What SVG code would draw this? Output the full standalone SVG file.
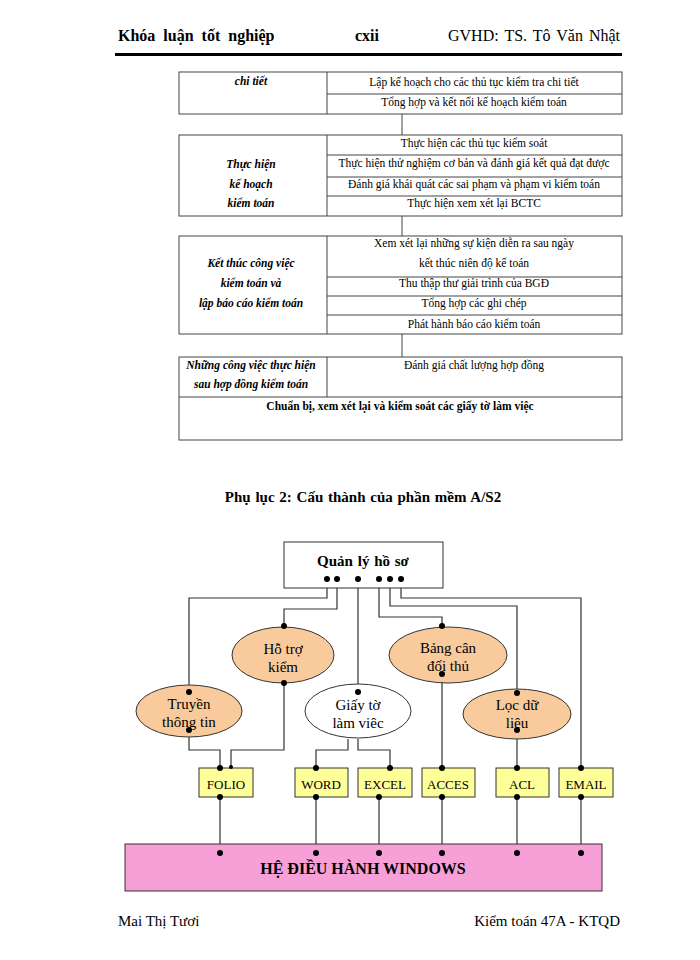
<svg xmlns="http://www.w3.org/2000/svg" width="700" height="960" viewBox="0 0 700 960">
<style>
.t{font-family:"Liberation Serif","Times New Roman",serif;fill:#000}
.hd{font-size:16px}
.tb{font-size:11.5px;text-anchor:middle}
.tl{font-size:11.5px;text-anchor:middle;font-weight:bold;font-style:italic}
.grid{fill:none;stroke:#444;stroke-width:1}
.ln{fill:none;stroke:#333;stroke-width:1.2}
.ell{fill:#F9CA9C;stroke:#333;stroke-width:1}
.box{fill:#FFFF99;stroke:#333;stroke-width:1}
.nt{font-size:15px;text-anchor:middle}
.bt{font-size:13px;text-anchor:middle}
.dot{fill:#000}
</style>
<rect width="700" height="960" fill="#fff"/>
<!-- header -->
<text class="t hd" x="118" y="41" font-weight="bold" word-spacing="4">Khóa luận tốt nghiệp</text>
<text class="t hd" x="355" y="41" font-weight="bold">cxii</text>
<text class="t hd" x="620" y="41" text-anchor="end" word-spacing="2">GVHD: TS. Tô Văn Nhật</text>
<rect x="115" y="53" width="507" height="3" fill="#000"/>

<!-- table part -->
<g id="table1">
<rect class="grid" x="179" y="72" width="443" height="42"/>
<line class="grid" x1="327" y1="72" x2="327" y2="114"/>
<line class="grid" x1="327" y1="94" x2="622" y2="94"/>
<text class="t tl" x="251" y="85">chi tiết</text>
<text class="t tb" x="474" y="86">Lập kế hoạch cho các thủ tục kiểm  tra chi tiết</text>
<text class="t tb" x="474" y="106">Tổng hợp và kết nối kế hoạch kiểm  toán</text>
</g>
<g id="table2">
<rect class="grid" x="179" y="135" width="443" height="81"/>
<line class="grid" x1="327" y1="135" x2="327" y2="216"/>
<line class="grid" x1="327" y1="155" x2="622" y2="155"/>
<line class="grid" x1="327" y1="177" x2="622" y2="177"/>
<line class="grid" x1="327" y1="196" x2="622" y2="196"/>
<text class="t tl" x="251" y="168">Thực hiện</text>
<text class="t tl" x="251" y="188">kế hoạch</text>
<text class="t tl" x="251" y="207">kiểm toán</text>
<text class="t tb" x="474" y="147">Thực hiện các thủ tục kiểm  soát</text>
<text class="t tb" x="474" y="167">Thực hiện thử nghiệm cơ bản và đánh giá kết quả đạt được</text>
<text class="t tb" x="474" y="188">Đánh giá khái quát các sai phạm và phạm vi kiểm  toán</text>
<text class="t tb" x="474" y="207">Thực hiện xem  xét lại BCTC</text>
</g>
<g id="table3">
<rect class="grid" x="179" y="236" width="443" height="98"/>
<line class="grid" x1="327" y1="236" x2="327" y2="334"/>
<line class="grid" x1="327" y1="277" x2="622" y2="277"/>
<line class="grid" x1="327" y1="296" x2="622" y2="296"/>
<line class="grid" x1="327" y1="315" x2="622" y2="315"/>
<text class="t tl" x="251" y="267">Kết thúc  công việc</text>
<text class="t tl" x="251" y="287">kiểm toán và</text>
<text class="t tl" x="251" y="307">lập báo cáo kiểm toán</text>
<text class="t tb" x="474" y="247">Xem xét  lại những sự kiện diễn ra sau ngày</text>
<text class="t tb" x="474" y="267">kết thúc niên độ kế toán</text>
<text class="t tb" x="474" y="287">Thu thập thư giải trình của BGĐ</text>
<text class="t tb" x="474" y="307">Tổng hợp các ghi chép</text>
<text class="t tb" x="474" y="328">Phát hành báo cáo kiểm  toán</text>
</g>
<g id="table4">
<rect class="grid" x="179" y="357" width="443" height="83"/>
<line class="grid" x1="327" y1="357" x2="327" y2="397"/>
<line class="grid" x1="179" y1="397" x2="622" y2="397"/>
<text class="t tl" x="251" y="369">Những công việc thực hiện</text>
<text class="t tl" x="251" y="388">sau hợp đồng kiểm toán</text>
<text class="t tb" x="474" y="369">Đánh giá chất lượng hợp đồng</text>
<text class="t tb" x="400" y="410" font-weight="bold">Chuẩn bị, xem xét lại và  kiểm soát các giấy tờ làm việc</text>
</g>
<g id="table-connectors">
<line class="grid" x1="402" y1="114" x2="402" y2="135"/>
<line class="grid" x1="402" y1="216" x2="402" y2="236"/>
<line class="grid" x1="402" y1="334" x2="402" y2="357"/>
</g>

<!-- title -->
<text class="t" x="363" y="502" font-size="15" font-weight="bold" text-anchor="middle" word-spacing="1">Phụ lục 2: Cấu thành của phần mềm A/S2</text>

<!-- connectors -->
<g id="connectors">
<polyline class="ln" points="327,579 327,598 189,598 189,692"/>
<polyline class="ln" points="337,579 337,609 284,609 284,625"/>
<polyline class="ln" points="358,579 358,692"/>
<polyline class="ln" points="379,579 379,617 442,617 442,625"/>
<polyline class="ln" points="390,579 390,606 517,606 517,693"/>
<polyline class="ln" points="401,579 401,598 581,598 581,768"/>
<polyline class="ln" points="284,683 284,750 231,750 231,768"/>
<polyline class="ln" points="189,730 189,750 220,750 220,768"/>
<polyline class="ln" points="348,739 348,750 316,750 316,768"/>
<polyline class="ln" points="358,739 358,750 390,750 390,768"/>
<polyline class="ln" points="442,674 442,768"/>
<polyline class="ln" points="517,730 517,768"/>
<line class="ln" x1="220" y1="797" x2="220" y2="853"/>
<line class="ln" x1="316" y1="797" x2="316" y2="853"/>
<line class="ln" x1="379" y1="797" x2="379" y2="853"/>
<line class="ln" x1="442" y1="797" x2="442" y2="853"/>
<line class="ln" x1="517" y1="797" x2="517" y2="853"/>
<line class="ln" x1="581" y1="797" x2="581" y2="853"/>
</g>

<g id="quanly">
<rect x="284" y="542" width="159" height="46" fill="#fff" stroke="#333" stroke-width="1"/>
<text class="t" x="363" y="566" font-size="15" font-weight="bold" text-anchor="middle" word-spacing="1">Quản lý hồ sơ</text>
</g>
<g id="hotro">
<ellipse class="ell" cx="283" cy="655" rx="51" ry="28"/>
<text class="t nt" x="283" y="654">Hỗ trợ</text>
<text class="t nt" x="283" y="672">kiểm</text>
</g>
<g id="bangcan">
<ellipse class="ell" cx="448" cy="655" rx="59" ry="28"/>
<text class="t nt" x="448" y="653">Bảng cân</text>
<text class="t nt" x="448" y="671">đối thủ</text>
</g>
<g id="truyen">
<ellipse class="ell" cx="189" cy="711" rx="53" ry="26"/>
<text class="t nt" x="189" y="709">Truyền</text>
<text class="t nt" x="189" y="727">thông tin</text>
</g>
<g id="giayto">
<ellipse cx="358" cy="711" rx="53" ry="27" fill="#fff" stroke="#333" stroke-width="1"/>
<text class="t nt" x="358" y="710">Giấy tờ</text>
<text class="t nt" x="358" y="728">làm viêc</text>
</g>
<g id="locdulieu">
<ellipse class="ell" cx="517" cy="714" rx="54" ry="25"/>
<text class="t nt" x="517" y="710">Lọc dữ</text>
<text class="t nt" x="517" y="728">liệu</text>
</g>

<g id="folio"><rect class="box" x="199" y="768" width="54" height="29"/><text class="t bt" x="226" y="789">FOLIO</text></g>
<g id="word"><rect class="box" x="295" y="768" width="53" height="29"/><text class="t bt" x="321" y="789">WORD</text></g>
<g id="excel"><rect class="box" x="358" y="768" width="54" height="29"/><text class="t bt" x="385" y="789">EXCEL</text></g>
<g id="acces"><rect class="box" x="422" y="768" width="53" height="29"/><text class="t bt" x="448" y="789">ACCES</text></g>
<g id="acl"><rect class="box" x="496" y="768" width="53" height="29"/><text class="t bt" x="522" y="789">ACL</text></g>
<g id="email"><rect class="box" x="559" y="768" width="54" height="29"/><text class="t bt" x="586" y="789">EMAIL</text></g>

<g id="windows">
<rect x="125" y="844" width="477" height="47" fill="#F79FD7" stroke="#333" stroke-width="1"/>
<text class="t" x="363" y="874" font-size="16" font-weight="bold" text-anchor="middle">HỆ ĐIỀU HÀNH WINDOWS</text>
</g>

<g id="dots">
<circle class="dot" cx="327" cy="579" r="3"/>
<circle class="dot" cx="337" cy="579" r="3"/>
<circle class="dot" cx="358" cy="579" r="3"/>
<circle class="dot" cx="379" cy="579" r="3"/>
<circle class="dot" cx="390" cy="579" r="3"/>
<circle class="dot" cx="401" cy="579" r="3"/>
<circle class="dot" cx="189" cy="692" r="3"/>
<circle class="dot" cx="284" cy="626" r="3"/>
<circle class="dot" cx="358" cy="692" r="3"/>
<circle class="dot" cx="442" cy="626" r="3"/>
<circle class="dot" cx="517" cy="693" r="3"/>
<circle class="dot" cx="284" cy="683" r="3"/>
<circle class="dot" cx="442" cy="674" r="3"/>
<circle class="dot" cx="189" cy="730" r="3"/>
<circle class="dot" cx="517" cy="730" r="3"/>
<circle class="dot" cx="220" cy="768" r="3"/>
<circle class="dot" cx="231" cy="767" r="2"/>
<circle class="dot" cx="316" cy="768" r="3"/>
<circle class="dot" cx="390" cy="768" r="3"/>
<circle class="dot" cx="442" cy="768" r="3"/>
<circle class="dot" cx="517" cy="768" r="3"/>
<circle class="dot" cx="581" cy="768" r="3"/>
<circle class="dot" cx="220" cy="797" r="3"/>
<circle class="dot" cx="316" cy="797" r="3"/>
<circle class="dot" cx="379" cy="797" r="3"/>
<circle class="dot" cx="442" cy="797" r="3"/>
<circle class="dot" cx="517" cy="797" r="3"/>
<circle class="dot" cx="581" cy="797" r="3"/>
<circle class="dot" cx="220" cy="853" r="3"/>
<circle class="dot" cx="316" cy="853" r="3"/>
<circle class="dot" cx="379" cy="853" r="3"/>
<circle class="dot" cx="442" cy="853" r="3"/>
<circle class="dot" cx="517" cy="853" r="3"/>
<circle class="dot" cx="581" cy="853" r="3"/>
</g>

<!-- footer -->
<text class="t" x="118" y="926" font-size="15">Mai Thị Tươi</text>
<text class="t" x="620" y="926" font-size="15" text-anchor="end">Kiểm toán 47A - KTQD</text>
</svg>
